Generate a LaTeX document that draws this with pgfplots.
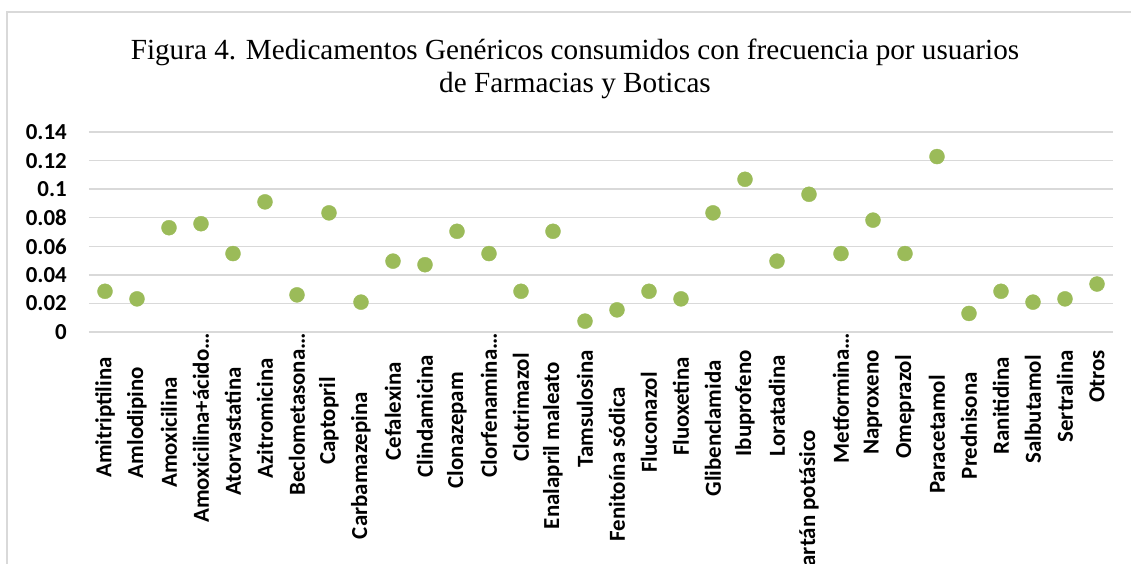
\documentclass[border=0pt]{standalone}
\usepackage{fontspec}
\setmainfont{Carlito}
\newfontfamily\titlefont{Liberation Serif}
\usepackage{pgfplots}
\pgfplotsset{compat=1.18}
\usetikzlibrary{calc}
\definecolor{ptgreen}{HTML}{9BBB59}
\definecolor{gridgray}{HTML}{D9D9D9}
\newcommand{\lab}[2]{#1\rule{#2bp}{0pt}}
\begin{document}
\begin{tikzpicture}
\begin{axis}[
  scale only axis, width=1024bp, height=200bp,
  xmin=-0.5, xmax=31.5, ymin=0, ymax=0.14,
  axis line style={draw=none},
  major tick length=0pt,
  ytick={0,0.02,0.04,0.06,0.08,0.1,0.12,0.14},
  yticklabels={0,0.02,0.04,0.06,0.08,0.1,0.12,0.14},
  xtick={0,1,...,31},
  xticklabels={\lab{Amitriptilina}{25},\lab{Amlodipino}{35},\lab{Amoxicilina}{45},\lab{Amoxicilina+ácido…}{1},\lab{Atorvastatina}{35},\lab{Azitromicina}{26},\lab{Beclometasona…}{1},\lab{Captopril}{45},\lab{Carbamazepina}{60},\lab{Cefalexina}{30},\lab{Clindamicina}{23},\lab{Clonazepam}{40},\lab{Clorfenamina…}{1},\lab{Clotrimazol}{21},\lab{Enalapril maleato}{30},\lab{Tamsulosina}{18},\lab{Fenitoína sódica}{55},\lab{Fluconazol}{40},\lab{Fluoxetina}{25},\lab{Glibenclamida}{28},\lab{Ibuprofeno}{18},\lab{Loratadina}{23},\lab{Losartán potásico}{98},\lab{Metformina…}{1},\lab{Naproxeno}{18},\lab{Omeprazol}{23},\lab{Paracetamol}{43},\lab{Prednisona}{40},\lab{Ranitidina}{25},\lab{Salbutamol}{23},\lab{Sertralina}{18},\lab{Otros}{18}},
  ymajorgrids, xmajorgrids=false,
  grid style={gridgray, line width=1.5bp},
  tick label style={font=\bfseries\fontsize{23}{26}\selectfont, text=black},
  yticklabel style={anchor=east, inner sep=0pt, xshift=-22bp},
  xticklabel style={rotate=90, anchor=east, inner sep=0pt},
  clip=false,
]
\coordinate (SW) at (rel axis cs:0,0);
\addplot[only marks, mark=*, mark size=7.5bp, color=ptgreen, mark options={draw=ptgreen, fill=ptgreen}] coordinates {
(0,0.0285) (1,0.0232) (2,0.0730) (3,0.0758) (4,0.0549) (5,0.0911) (6,0.0260) (7,0.0834)
(8,0.0209) (9,0.0496) (10,0.0471) (11,0.0705) (12,0.0549) (13,0.0285) (14,0.0705) (15,0.0076)
(16,0.0155) (17,0.0285) (18,0.0232) (19,0.0834) (20,0.1069) (21,0.0496) (22,0.0964) (23,0.0549)
(24,0.0783) (25,0.0549) (26,0.1228) (27,0.0130) (28,0.0285) (29,0.0209) (30,0.0232) (31,0.0336)
};
\end{axis}
\pgfresetboundingbox
\path[use as bounding box] ($(SW)+(-89bp,-232bp)$) rectangle ($(SW)+(1042bp,332bp)$);
\begin{scope}[on background layer/.try]
\end{scope}
\draw[gridgray, line width=1.5bp] ($(SW)+(-82bp,-260bp)$) -- ($(SW)+(-82bp,320bp)$) -- ($(SW)+(1080bp,320bp)$);
\node[font=\titlefont\fontsize{29.3}{33}\selectfont, anchor=base, inner sep=0pt] at ($(SW)+(486bp,272bp)$) {Figura 4. Medicamentos Genéricos consumidos con frecuencia por usuarios};
\node[font=\titlefont\fontsize{29.3}{33}\selectfont, anchor=base, inner sep=0pt] at ($(SW)+(486bp,239bp)$) {de Farmacias y Boticas};
\end{tikzpicture}
\end{document}
